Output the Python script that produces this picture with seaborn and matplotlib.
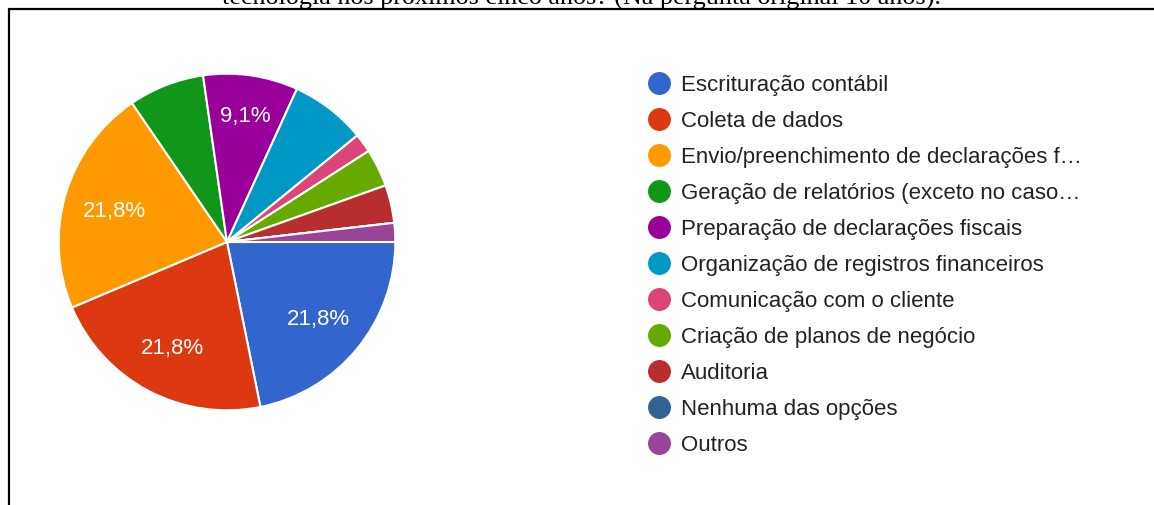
import matplotlib
matplotlib.use("Agg")
import matplotlib.pyplot as plt
from matplotlib.lines import Line2D
import seaborn as sns

categories = [
    "Escrituração contábil",
    "Coleta de dados",
    "Envio/preenchimento de declarações f…",
    "Geração de relatórios (exceto no caso…",
    "Preparação de declarações fiscais",
    "Organização de registros financeiros",
    "Comunicação com o cliente",
    "Criação de planos de negócio",
    "Auditoria",
    "Nenhuma das opções",
    "Outros",
]
counts = [12, 12, 12, 4, 5, 4, 1, 2, 2, 0, 1]
colors = ["#3366cc", "#dc3912", "#ff9900", "#109618", "#990099", "#0099c6",
          "#dd4477", "#66aa00", "#b82e2e", "#316395", "#994499"]
title_text = "tecnologia nos próximos cinco anos? (Na pergunta original 10 anos)."

sns.set_theme(style="white")
plt.rcParams["font.family"] = ["Liberation Sans", "DejaVu Sans"]

W, H = 1154, 505
fig = plt.figure(figsize=(W / 100, H / 100), dpi=100)

# pie axes: center (227, 242) px, radius 170 px
cx, cy, r = 227, 242, 170
ax = fig.add_axes([(cx - r) / W, (H - cy - r) / H, 2 * r / W, 2 * r / H])
total = sum(counts)

def fmt(p):
    return ("%.1f%%" % p).replace(".", ",") if p > 8 else ""

wedges, texts, autotexts = ax.pie(
    counts, colors=colors, startangle=0, counterclock=False,
    autopct=fmt, pctdistance=0.7,
    wedgeprops=dict(edgecolor="white", linewidth=1.5),
    textprops=dict(color="white", fontsize=16),
)
# narrow slices get their label pushed a little further out
for c, at in zip(counts, autotexts):
    at.set_va("center_baseline")
    if 0 < c / total < 0.15:
        x, y = at.get_position()
        at.set_position((x * 0.77 / 0.7, y * 0.77 / 0.7))
ax.set_xlim(-1.01, 1.01)
ax.set_ylim(-1.01, 1.01)
ax.set_aspect("equal")
ax.axis("off")

# legend
handles = [Line2D([0], [0], marker="o", linestyle="none", markersize=15.5,
                  markerfacecolor=c, markeredgecolor=c) for c in colors]
leg = fig.legend(handles, categories, loc="upper left",
                 bbox_to_anchor=(648 / W, 1 - 75 / H),
                 frameon=False, borderaxespad=0, borderpad=0,
                 handlelength=1.0, handletextpad=0.49, labelspacing=0.675,
                 fontsize=16, labelcolor="#222222")

# border lines (top and left)
fig.add_artist(Line2D([9 / W, 1], [1 - 9 / H, 1 - 9 / H], color="black",
                      linewidth=1.6, transform=fig.transFigure))
fig.add_artist(Line2D([9 / W, 9 / W], [0, 1 - 9 / H], color="black",
                      linewidth=1.6, transform=fig.transFigure))

# partially visible heading text (cut by the top edge, as in the source)
t = fig.text(582 / W, 1 - 5 / H, title_text, ha="center", va="baseline",
             fontsize=16, family=["Liberation Serif", "DejaVu Serif"], color="black")
fig.canvas.draw()
wpx = t.get_window_extent().width
t.set_fontsize(16 * 721 / wpx)

fig.savefig("out.png", dpi=100)
